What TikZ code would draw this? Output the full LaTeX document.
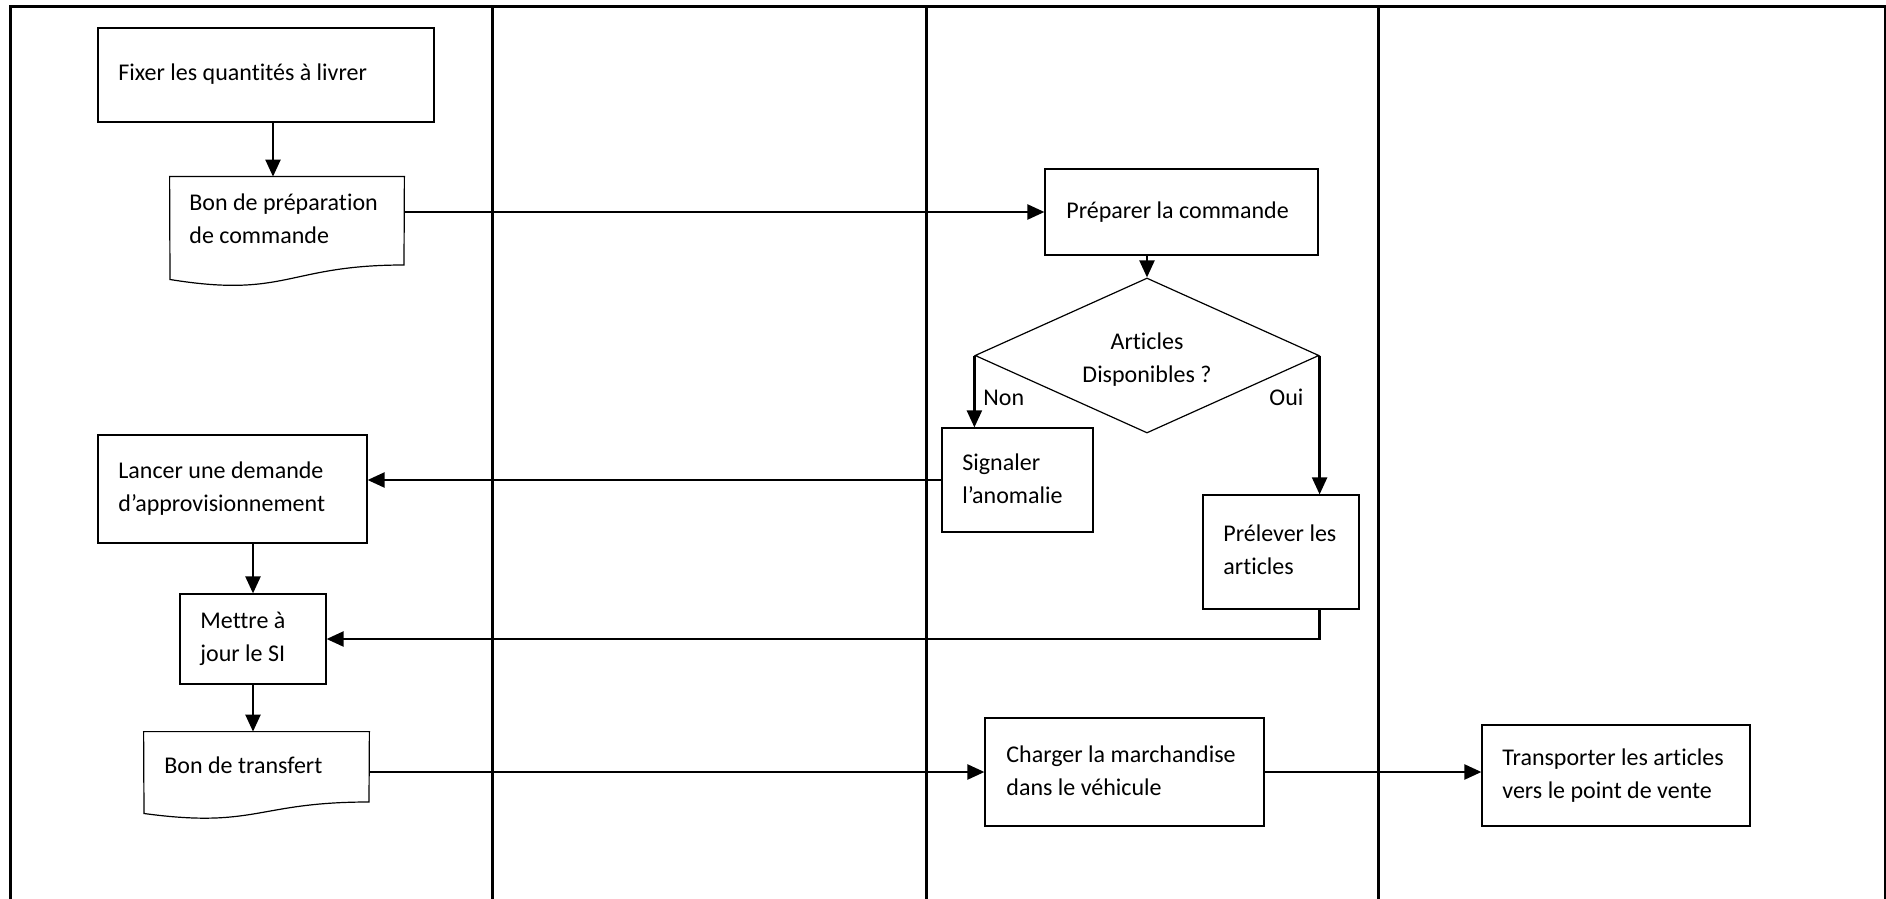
\documentclass[tikz,border=0pt]{standalone}
\usepackage{fontspec}
\setmainfont{Carlito}[Ligatures=NoCommon]
\usetikzlibrary{arrows.meta,shapes.geometric,fit,calc}
\begin{document}
\begin{tikzpicture}[x=0.5pt,y=-0.5pt,
  lane/.style={line width=1.5pt},
  outline/.style={draw, line width=0.6pt},
  box/.style={outline, inner sep=0pt},
  txt/.style={anchor=north west, inner sep=0pt, align=left, yshift=11.725pt,
    font=\fontsize{12pt}{16.75pt}\selectfont},
  arr/.style={line width=1.15pt, -{Triangle[width=7.5pt,length=8.5pt]}}]
\useasboundingbox (0,0) rectangle (1886,899);

% swimlane frame
\draw[lane] (10,910) -- (10,7) -- (1892,7);
\foreach \x in {492,926,1378,1885} \draw[lane] (\x,7) -- (\x,910);

% process boxes
\node[box, fit={(98,28) (434,122)}] (fix) {};
\node[box, fit={(1045,169) (1318,255)}] (prep) {};
\node[box, fit={(942,428) (1093,532)}] (signal) {};
\node[box, fit={(1203,495) (1359,609)}] (prel) {};
\node[box, fit={(98,435) (367,543)}] (lancer) {};
\node[box, fit={(180,594) (326,684)}] (maj) {};
\node[box, fit={(985,718) (1264,826)}] (charger) {};
\node[box, fit={(1482,725) (1750,826)}] (transp) {};

% document shapes
\node[inner sep=0pt, fit={(170,177) (404,247)}] (bonprep) {};
\draw[outline] (bonprep.north west) -- (bonprep.north east) -- (404,265)
  .. controls (287,265) and (287,298.5) .. (170,279.5) -- cycle;
\node[inner sep=0pt, fit={(144,732) (369,812)}] (bontr) {};
\draw[outline] (bontr.north west) -- (bontr.north east) -- (369,802)
  .. controls (256.5,802) and (256.5,828.7) .. (144,813.5) -- cycle;

% decision
\node[draw, diamond, line width=0.6pt, inner sep=0pt, minimum width=172pt,
  minimum height=77.5pt] (dispo) at (1147,355.5) {};

% texts (each starts with a strut so the first baseline sits at the given point)
\node[txt] (tfix) at (118,80) {\strut Fixer les quantités à livrer};
\node[txt] (tbonprep) at (189,210) {\strut Bon de préparation\\de commande};
\node[txt] (tprep) at (1066,218) {\strut Préparer la commande};
\node[txt, anchor=north, align=center] (tdispo) at (1147,349) {\strut Articles\\Disponibles ?};
\node[txt] (tnon) at (983,405) {\strut Non};
\node[txt] (toui) at (1269,405) {\strut Oui};
\node[txt] (tsignal) at (962,470) {\strut Signaler\\l’anomalie};
\node[txt] (tprel) at (1223,541) {\strut Prélever les\\articles};
\node[txt] (tlancer) at (118,478) {\strut Lancer une demande\\d’approvisionnement};
\node[txt] (tmaj) at (200,628) {\strut Mettre à\\jour le SI};
\node[txt] (tbontr) at (164,773) {\strut Bon de transfert};
\node[txt] (tcharger) at (1006,762) {\strut Charger la marchandise\\dans le véhicule};
\node[txt] (ttransp) at (1502,765) {\strut Transporter les articles\\vers le point de vente};

% connectors
\coordinate (x1) at (273,0);
\draw[arr] (fix.south -| x1) -- (bonprep.north -| x1);
\draw[arr] (bonprep.east) -- (prep.west);
\draw[arr] (prep.south -| dispo.north) -- (dispo.north);
\draw[arr] (dispo.west) -- (signal.north -| dispo.west);
\draw[arr] (dispo.east) -- (prel.north -| dispo.east);
\draw[arr] (signal.west) -- (signal.west -| lancer.east);
\draw[arr] (lancer.south -| maj.north) -- (maj.north);
\draw[arr] (prel.south -| dispo.east) |- (maj.east);
\draw[arr] (maj.south) -- (bontr.north -| maj.south);
\draw[arr] (bontr.east) -- (charger.west);
\draw[arr] (charger.east) -- (charger.east -| transp.west);
\end{tikzpicture}
\end{document}
